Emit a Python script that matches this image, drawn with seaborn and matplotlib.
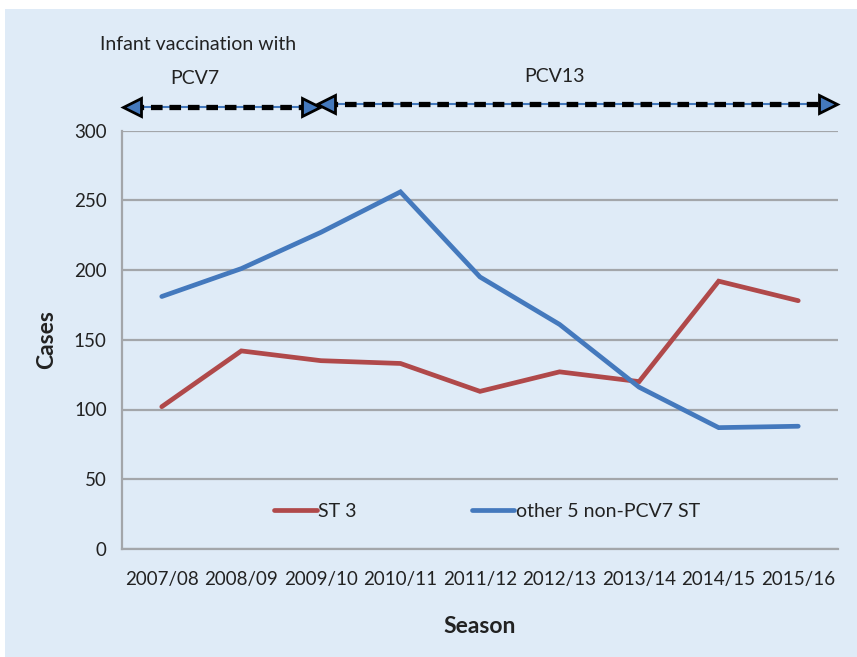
import matplotlib
matplotlib.use("Agg")
import matplotlib.pyplot as plt
import matplotlib.patches as mpatches
import seaborn as sns
import pandas as pd
import numpy as np

seasons = ["2007/08", "2008/09", "2009/10", "2010/11", "2011/12",
           "2012/13", "2013/14", "2014/15", "2015/16"]
st3 = [102, 142, 135, 133, 113, 127, 120, 192, 178]
other5 = [181, 201, 227, 256, 195, 161, 116, 87, 88]
series_names = ["ST 3", "other 5 non-PCV7 ST"]
yticks = [0, 50, 100, 150, 200, 250, 300]

df = pd.DataFrame({
    "Season": seasons * 2,
    "Cases": st3 + other5,
    "Series": [series_names[0]] * len(seasons) + [series_names[1]] * len(seasons),
})

sns.set_theme(style="white")
plt.rcParams["font.family"] = ["Lato", "DejaVu Sans"]

bg = "#dfebf7"
red = "#b0494a"
blue = "#4479bd"
grid = "#a3a6aa"
txt = "#222222"

fig = plt.figure(figsize=(8.57, 6.57), dpi=100, facecolor="white")
fig.patches.append(mpatches.Rectangle((5 / 857, 0), 1, 1 - 9 / 657,
                                      transform=fig.transFigure,
                                      facecolor=bg, edgecolor="none", zorder=-10))
ax = fig.add_axes([122 / 857, 108 / 657, 716 / 857, 418.5 / 657])
ax.set_facecolor(bg)

sns.lineplot(data=df, x="Season", y="Cases", hue="Series",
             palette=[red, blue], linewidth=3.4, ax=ax, sort=False,
             solid_capstyle="round", solid_joinstyle="miter", zorder=3)

ax.set_xlim(-0.5, len(seasons) - 0.5)
ax.set_ylim(0, 300)
ax.set_yticks(yticks)
ax.set_yticklabels([str(v) for v in yticks], fontsize=13.5, color=txt)
ax.yaxis.grid(True, color=grid, linewidth=1.6)
ax.set_axisbelow(True)
ax.set_xticks(range(len(seasons)))
ax.set_xticklabels(seasons, fontsize=13.5, color=txt)
ax.set_xticks(np.arange(-0.5, len(seasons), 1.0), minor=True)
ax.tick_params(axis="x", which="major", length=0, pad=16)
ax.tick_params(axis="x", which="minor", length=7, width=1.3, color=grid, direction="out")
ax.tick_params(axis="y", which="major", length=7, width=1.3, color=grid, direction="out", pad=4)
for s in ["top", "right"]:
    ax.spines[s].set_visible(False)
for s in ["left", "bottom"]:
    ax.spines[s].set_color(grid)
    ax.spines[s].set_linewidth(1.6)

ax.set_xlabel("Season", fontsize=16.5, fontweight="bold", color=txt, labelpad=20)
ax.set_ylabel("Cases", fontsize=16.5, fontweight="bold", color=txt, labelpad=12)

leg = ax.legend(loc="center", bbox_to_anchor=(0.51, 0.09), ncol=2, frameon=False,
                fontsize=14, handlelength=2.2, handletextpad=0.1, columnspacing=5.9)
for t in leg.get_texts():
    t.set_color(txt)
for h in leg.get_lines():
    h.set_linewidth(3.4)

# Vaccination period arrows (drawn above the axes)
def period_arrow(x0, x1, y):
    ax.plot([x0, x1], [y, y], color=blue, lw=1.5, clip_on=False, zorder=4)
    ax.plot([x0, x1], [y, y], color="black", lw=3.8, ls=(0, (2.2, 1.3)),
            clip_on=False, zorder=5)
    ax.plot([x0], [y], marker="<", ms=13, mfc=blue, mec="black", mew=2,
            clip_on=False, zorder=6)
    ax.plot([x1], [y], marker=">", ms=13, mfc=blue, mec="black", mew=2,
            clip_on=False, zorder=6)

period_arrow(-0.38, 1.87, 317)
period_arrow(2.07, 8.38, 319)

fig.text(100 / 857, 1 - 45 / 657, "Infant vaccination with", fontsize=14,
         color=txt, ha="left", va="center")
fig.text(195 / 857, 1 - 79 / 657, "PCV7", fontsize=14, color=txt, ha="center", va="center")
fig.text(555 / 857, 1 - 77 / 657, "PCV13", fontsize=14, color=txt, ha="center", va="center")

fig.savefig("out.png", dpi=100, facecolor=fig.get_facecolor())
